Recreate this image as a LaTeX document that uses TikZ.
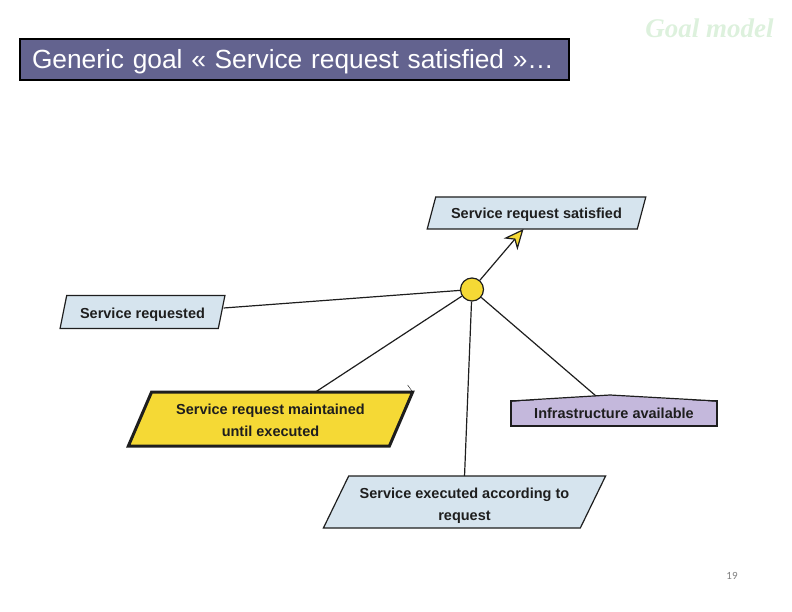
\documentclass[tikz,border=0pt]{standalone}
\usepackage{fontspec}
\setmainfont{Liberation Sans}
\newfontfamily\goalserif{Liberation Serif}
\newfontfamily\pagefont{Carlito}
\usepackage{xcolor}
\usetikzlibrary{arrows.meta, shapes.geometric, calc}
\definecolor{goalblue}{HTML}{D6E4EE}
\definecolor{goalyellow}{HTML}{F5D935}
\definecolor{goalpurple}{HTML}{C4B8DC}
\definecolor{titleblue}{HTML}{63638F}
\definecolor{titlegreen}{HTML}{DDF1DD}
\definecolor{inkdark}{HTML}{1E1E1E}
\tikzset{
  goalbox/.style={trapezium, trapezium stretches=true, draw=inkdark, line width=1.2pt,
    fill=goalblue, inner sep=0pt, outer sep=0pt, align=center, text=inkdark,
    font=\fontsize{14.5}{22}\selectfont\bfseries},
  link/.style={draw=inkdark, line width=1.2pt}
}
\begin{document}
\begin{tikzpicture}[x=1pt, y=-1pt]
        \useasboundingbox (0, 0) rectangle (792, 612);
        % Title bar
        \node[draw=black, line width=2pt, fill=titleblue, text=white, minimum height=41pt,
          text width=525pt, inner xsep=12pt, inner ysep=0pt, align=left, text height=19pt, text depth=0pt,
          font=\fontsize{26.3}{30}\selectfont] (title)
          at (294.5, 59.5) {Generic goal « Service request satisfied »…};
        \node[text=titlegreen, font=\fontsize{27}{30}\selectfont\goalserif\bfseries\itshape] (heading)
          at (709.5, 28) {Goal model};
        % Goals
        \node[goalbox, trapezium left angle=55.5, trapezium right angle=124.5, text height=10.5pt, text depth=0pt,
          minimum width=219pt, minimum height=32pt] (satisfied)
          at (536.5, 213) {Service request satisfied};
        \node[goalbox, trapezium left angle=65.5, trapezium right angle=114.5, text height=12pt, text depth=0pt,
          minimum width=165pt, minimum height=33pt] (requested)
          at (142.5, 312) {Service requested};
        \node[goalbox, trapezium left angle=63, trapezium right angle=117, fill=goalyellow,
          line width=3pt, minimum width=285pt, minimum height=54pt] (maintained)
          at (270.5, 419) {\rule{0pt}{14pt}Service request maintained\\until executed};
        \node[goalbox, trapezium left angle=62, trapezium right angle=118,
          minimum width=283pt, minimum height=52pt] (executed)
          at (464.5, 502) {\rule{0pt}{18pt}Service executed according to\\request};
        \node[draw=inkdark, line width=1.2pt, fill=goalpurple, text=inkdark, minimum width=206pt,
          minimum height=25pt, inner sep=0pt, outer sep=0pt,
          font=\fontsize{14.5}{16}\selectfont\bfseries] (infra)
          at (614, 413.5) {Infrastructure available};
        % Roof of the purple goal
        \fill[goalpurple] ($(infra.north west)+(0.6, 0.8)$) -- ($(infra.north)+(-4, -6)$)
          -- ($(infra.north east)+(-0.6, 0.8)$) -- cycle;
        \draw[link] (infra.north west) -- ($(infra.north)+(-4, -6)$) -- (infra.north east);
        % Junction
        \node[circle, draw=inkdark, line width=1.2pt, fill=goalyellow, minimum size=23pt,
          inner sep=0pt] (junction) at (472, 289.5) {};
        % Links
        \draw[link, -{Stealth[length=20pt, width=18pt, inset=6pt, fill=goalyellow]}]
          (junction) -- ($(satisfied.south)+(-13, 0)$);
        \draw[link] ($(requested.east)+(2, -4)$) -- (junction);
        \draw[link] ($(maintained.north)+(45, 0)$) -- (junction);
        \draw[link] (executed.north) -- (junction);
        \draw[link] ($(infra.north)+(-18, -5)$) -- (junction);
        % Small tick
        \draw[black, line width=0.4pt] (maintained.top right corner) -- ++(-5, -7);
        % Page number
        \node[text=gray, font=\fontsize{11}{13}\selectfont\pagefont] (pagenum) at (732, 576) {19};
      \end{tikzpicture}
\end{document}
